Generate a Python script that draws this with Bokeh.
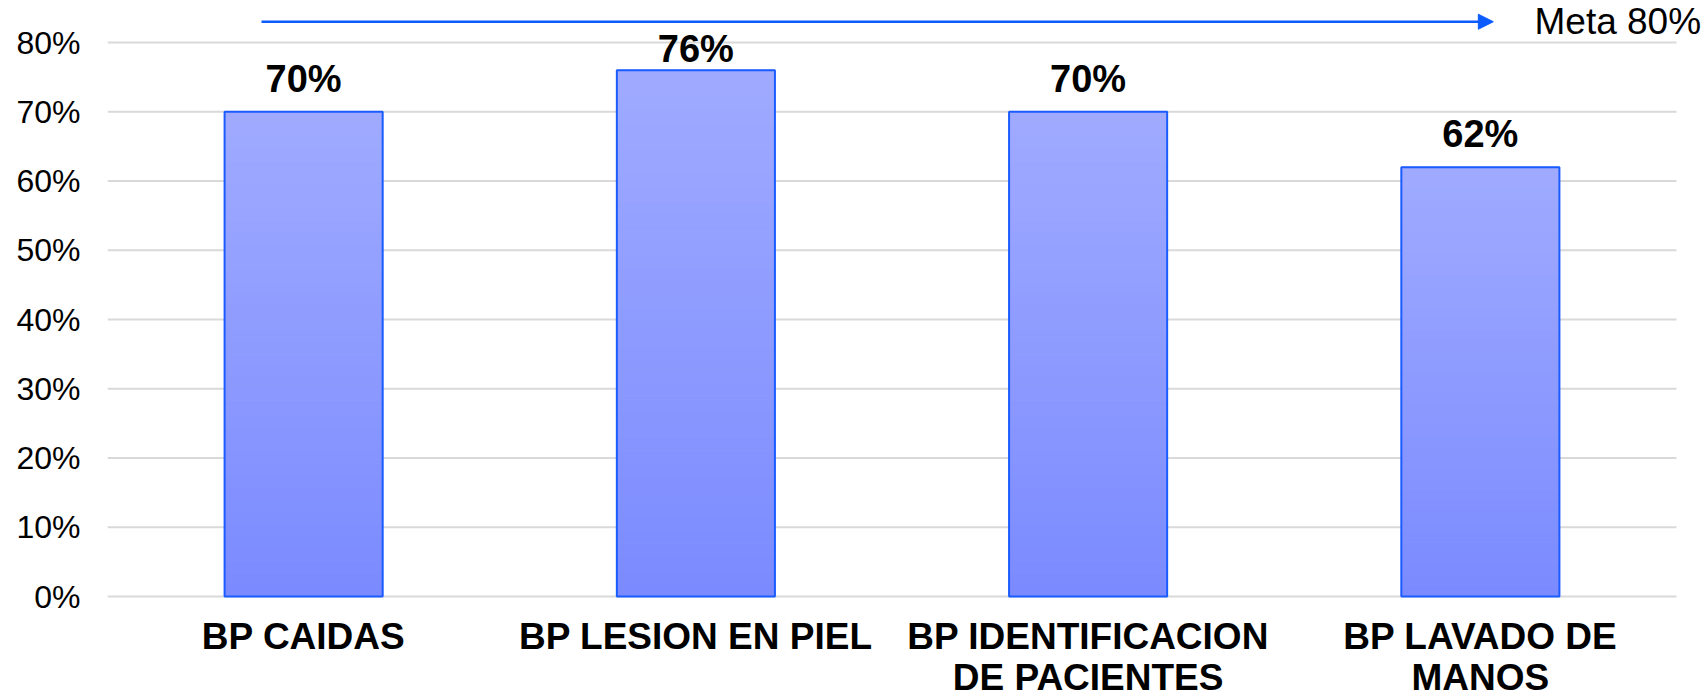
import numpy as np
from bokeh.plotting import figure
from bokeh.models import (ColumnDataSource, Range1d, FixedTicker,
                          PrintfTickFormatter, Arrow, NormalHead, Label)
from bokeh.core.properties import value
from bokeh.embed import file_html
from bokeh.resources import INLINE

# ---- data ----
categories = ["BP CAIDAS", "BP LESION EN PIEL", "BP IDENTIFICACION\nDE PACIENTES", "BP LAVADO DE\nMANOS"]
values = [70, 76, 70, 62]
labels = ["70%", "76%", "70%", "62%"]
y_ticks = [0, 10, 20, 30, 40, 50, 60, 70, 80]
meta_text = "Meta 80%"

FONT = "Liberation Sans"
TOP_COLOR = np.array([160, 171, 255])
BOT_COLOR = np.array([123, 139, 255])
EDGE = "#1a5cff"
ARROW = "#0b5bff"

W, H = 1706, 698
LEFT = 107
PX_X = 392.25          # pixels per category
PX_Y = 6.925           # pixels per percent
ZERO = 596             # pixel row of 0%

p = figure(x_range=Range1d(0, (W - LEFT) / PX_X),
           y_range=Range1d(-(H - ZERO) / PX_Y, ZERO / PX_Y),
           width=W, height=H, output_backend="svg", toolbar_location=None,
           x_axis_location=None,
           min_border_left=LEFT, min_border_right=0, min_border_top=0,
           min_border_bottom=0)
p.outline_line_color = None
p.background_fill_color = "white"
p.border_fill_color = "white"
p.xgrid.grid_line_color = None
p.ygrid.grid_line_color = None

n = len(categories)
xpos = np.arange(n) + 0.5

# horizontal grid lines at the y ticks, across the category area
p.segment(x0=[0] * len(y_ticks), x1=[n] * len(y_ticks), y0=y_ticks, y1=y_ticks,
          line_color="#d9d9d9", line_width=2)

# gradient bars (slices of each bar, derived from values)
N = 40
xs, bots, tops, cols = [], [], [], []
for x, v in zip(xpos, values):
    for i in range(N):
        f = (i + 0.5) / N
        rgb = (BOT_COLOR * (1 - f) + TOP_COLOR * f).astype(int)
        xs.append(x)
        bots.append(v * i / N)
        tops.append(v * (i + 1) / N)
        cols.append("#%02x%02x%02x" % tuple(rgb))
grad = ColumnDataSource(dict(x=xs, bottom=bots, top=tops, color=cols))
p.vbar(x="x", bottom="bottom", top="top", width=0.403, source=grad,
       fill_color="color", line_color="color", line_width=1)

# value labels are kept inside the plot area (below the top gridline)
label_ceiling = y_ticks[-1] - 39.5 / PX_Y
label_y = np.minimum(np.array(values, dtype=float), label_ceiling)

src = ColumnDataSource(dict(x=xpos, top=values, label=labels, cat=categories,
                            zero=[0] * n, ly=label_y))
p.vbar(x="x", top="top", width=0.403, source=src, fill_color=None,
       line_color=EDGE, line_width=2)

p.text(x="x", y="ly", text="label", source=src, text_align="center",
       text_baseline="alphabetic", y_offset=-33,
       text_font=value(FONT), text_font_style="bold", text_font_size="38px",
       text_color="black")

# category labels under the bars
p.text(x="x", y="zero", text="cat", source=src, text_align="center",
       text_baseline="top", y_offset=19, text_line_height=1.0,
       text_font=value(FONT), text_font_style="bold", text_font_size="37px",
       text_color="black")

# meta arrow
arrow_level = 83
p.add_layout(Arrow(end=NormalHead(size=15, fill_color=ARROW, line_color=ARROW),
                   x_start=0.3926, y_start=arrow_level, x_end=3.533, y_end=arrow_level,
                   line_color=ARROW, line_width=2.5))
p.add_layout(Label(x=3.638, y=arrow_level, text=meta_text, text_align="left",
                   text_baseline="middle", text_font=FONT, text_font_size="37px",
                   text_color="black"))

# y axis
p.yaxis.ticker = FixedTicker(ticks=y_ticks)
p.yaxis.formatter = PrintfTickFormatter(format="%d%%")
p.yaxis.axis_line_color = None
p.yaxis.major_tick_line_color = None
p.yaxis.minor_tick_line_color = None
p.yaxis.major_tick_out = 0
p.yaxis.major_tick_in = 0
p.yaxis.major_label_text_font = FONT
p.yaxis.major_label_text_font_size = "32px"
p.yaxis.major_label_text_color = "black"
p.yaxis.major_label_standoff = 27

open("out.html", "w").write(file_html(p, INLINE))
